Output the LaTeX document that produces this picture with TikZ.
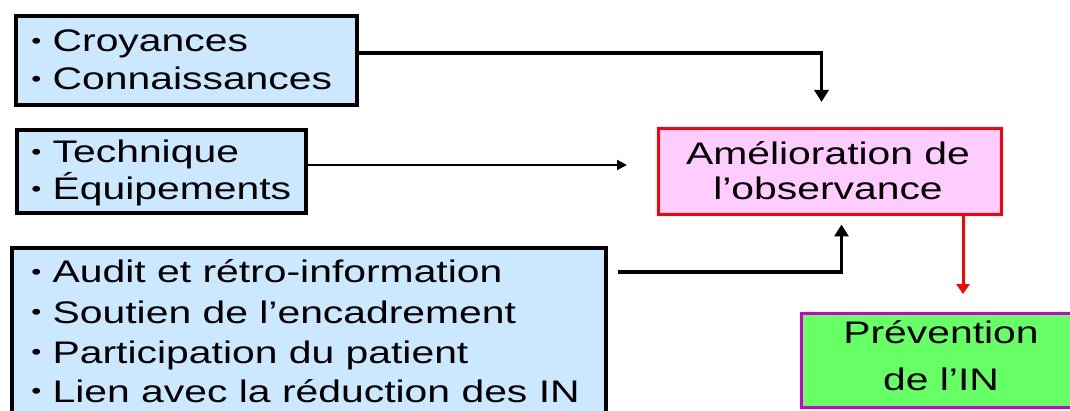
\documentclass[tikz,border=0pt]{standalone}
\usepackage{fontspec}
\setmainfont[FakeStretch=1.31]{Liberation Sans}
\usetikzlibrary{arrows.meta}
\definecolor{lblue}{RGB}{204,232,255}
\definecolor{lpink}{RGB}{255,204,255}
\definecolor{lgreen}{RGB}{102,255,102}
\definecolor{purp}{RGB}{204,0,204}
\newcommand{\bul}{\raisebox{0.1em}{\scalebox{0.7}{•}}\hspace{0.36em}}
\begin{document}
\begin{tikzpicture}[x=0.5pt,y=-0.5pt,
  bluebox/.style={draw=black,line width=1.8pt,fill=lblue,inner sep=0pt,anchor=north west},
  pinkbox/.style={draw=red,line width=1.5pt,fill=lpink,inner sep=0pt,anchor=north west},
  greenbox/.style={draw=purp,line width=1.5pt,fill=lgreen,inner sep=0pt,anchor=north west},
  txt/.style={anchor=base west,inner sep=0pt,font=\fontsize{15.6pt}{19pt}\selectfont},
  ctxt/.style={anchor=base,inner sep=0pt,font=\fontsize{15.6pt}{19pt}\selectfont},
  conn/.style={line width=1.6pt,-{Triangle[length=6pt,width=7pt]}},
  thinconn/.style={line width=1pt,-{Triangle[length=5pt,width=5pt]}},
  redconn/.style={draw=red,line width=1.5pt,-{Triangle[length=5pt,width=6.5pt]}}]
\clip (0,0) rectangle (1070,411);
\fill[white] (0,0) rectangle (1070,411);
% boxes
\node[bluebox,minimum width=170.5pt,minimum height=44.5pt] (b1) at (14,14) {};
\node[bluebox,minimum width=144.5pt,minimum height=41.5pt] (b2) at (15,128) {};
\node[bluebox,minimum width=297pt,minimum height=100pt] (b3) at (10,246) {};
\node[pinkbox,minimum width=171.5pt,minimum height=43pt] (amel) at (657,127) {};
\node[greenbox,minimum width=145pt,minimum height=47pt] (prev) at (800,312) {};
% texts
\node[txt] (t1a) at (31,52) {\bul Croyances};
\node[txt] (t1b) at (31,90) {\bul Connaissances};
\node[txt] (t2a) at (31,163) {\bul Technique};
\node[txt] (t2b) at (31,200) {\bul Équipements};
\node[txt] (t3a) at (31,283) {\bul Audit et rétro-information};
\node[txt] (t3b) at (31,323) {\bul Soutien de l’encadrement};
\node[txt] (t3c) at (31,363) {\bul Participation du patient};
\node[txt] (t3d) at (31,402) {\bul Lien avec la réduction des IN};
\node[ctxt] (ta1) at (828,165) {Amélioration de};
\node[ctxt] (ta2) at (828,200) {l’observance};
\node[ctxt] (tp1) at (941,343) {Prévention};
\node[ctxt] (tp2) at (941,390) {de l’IN};
% connectors
\draw[conn] (b1.east |- 0,53) -| ([xshift=-4.25pt,yshift=12.5pt]amel.north);
\draw[thinconn] (b2.east |- 0,165) -- ([xshift=-15pt]amel.west |- 0,165);
\draw[conn] ([xshift=5pt]b3.east |- 0,272) -| ([xshift=5.75pt,yshift=-4.25pt]amel.south);
\draw[redconn] (amel.south -| 963,0) -- ([yshift=9pt]prev.north -| 963,0);
\end{tikzpicture}
\end{document}
